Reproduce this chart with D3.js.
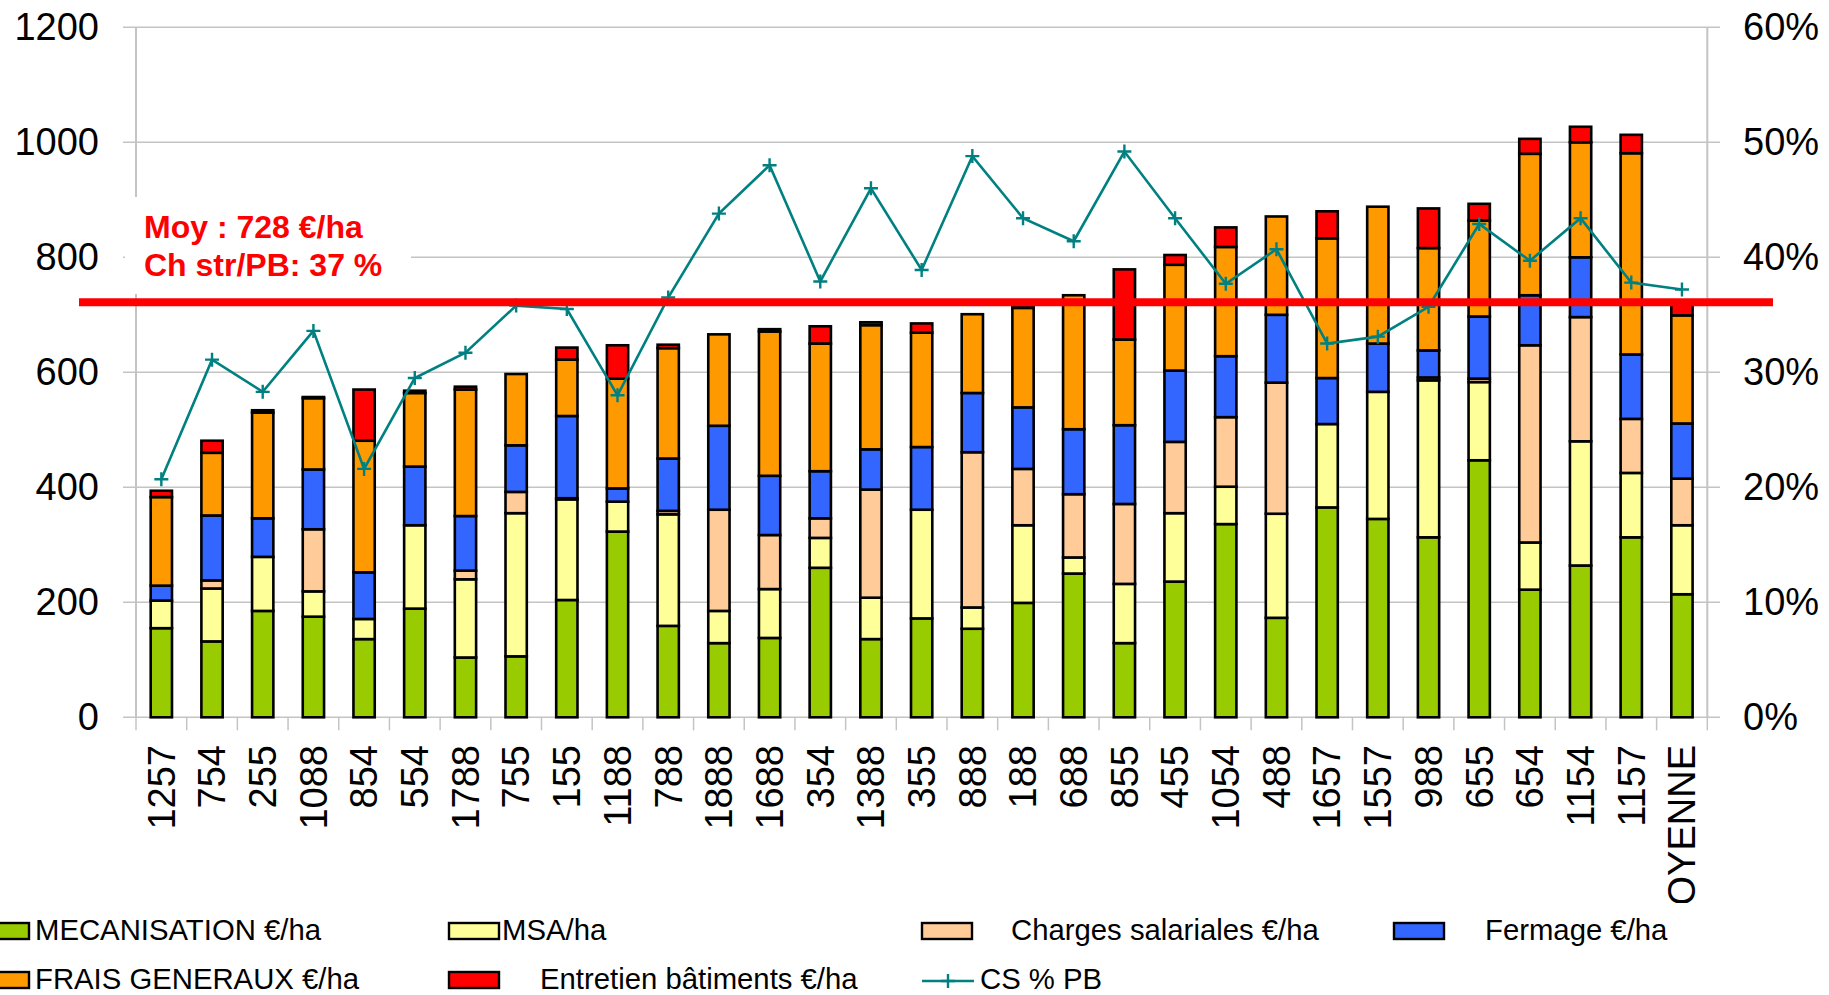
<!DOCTYPE html>
<html>
<head>
<meta charset="utf-8">
<script src="https://cdn.jsdelivr.net/npm/d3@7"></script>
<style>
  html, body { margin: 0; padding: 0; background: #fff; }
  svg { display: block; font-family: "Liberation Sans", Arial, Helvetica, sans-serif; }
</style>
</head>
<body>
<svg id="chart" width="1829" height="995"></svg>
<script>
// ---------------- DATA ----------------
const categories = ["1257","754","255","1088","854","554","1788","755","155","1188","788","1888","1688","354","1388","355","888","188","688","855","455","1054","488","1657","1557","988","655","654","1154","1157","MOYENNE"];
const mecanisation = [155,132,185,175,136,189,104,106,204,323,159,129,138,260,136,172,154,199,250,129,236,336,173,365,345,313,447,222,264,313,214];
const msa          = [48,92,94,44,35,145,136,249,175,52,194,56,85,52,72,189,37,135,28,103,119,65,181,145,221,273,136,82,216,112,120];
const charges      = [0,14,0,108,0,0,15,37,2,0,6,176,94,34,188,0,270,98,110,139,124,121,228,0,0,5,6,343,216,94,81];
const fermage      = [26,113,67,104,81,102,95,81,143,23,91,146,103,82,70,109,103,107,113,137,124,106,118,80,84,47,108,87,104,112,96];
const fraisGen     = [154,109,184,124,229,128,220,124,98,191,192,159,251,222,216,199,137,173,233,149,184,190,171,243,238,178,167,246,200,350,188];
const entretien    = [11,21,4,2,89,4,5,0,21,58,6,0,4,30,5,16,0,2,0,122,17,34,0,47,0,69,29,26,27,32,19];
const csPctPB      = [20.7,31.1,28.3,33.6,21.6,29.5,31.7,35.8,35.5,28.0,36.5,43.8,48.0,37.9,46.0,38.9,48.8,43.4,41.4,49.2,43.4,37.7,40.7,32.5,33.1,35.7,42.9,39.7,43.4,37.8,37.2];
const leftTicks  = [0,200,400,600,800,1000,1200];
const rightTicks = [0,0.1,0.2,0.3,0.4,0.5,0.6];
const moyLineValue = 722;
const annotationLines = ["Moy : 728 €/ha", "Ch str/PB: 37 %"];
const seriesNames = ["MECANISATION €/ha","MSA/ha","Charges salariales €/ha","Fermage €/ha","FRAIS GENERAUX €/ha","Entretien bâtiments €/ha"];
const lineName = "CS % PB";

// ---------------- SETUP ----------------
const colors = ["#99CC00","#FFFF99","#FFCC99","#3366FF","#FF9900","#FF0000"];
const teal = "#008080";
const svg = d3.select("#chart");
const pLeft = 136, pRight = 1707.3, pTop = 27.3, pBottom = 717.3;

const rows = categories.map((c, i) => ({
  cat: c, k0: mecanisation[i], k1: msa[i], k2: charges[i], k3: fermage[i], k4: fraisGen[i], k5: entretien[i]
}));
const keys = ["k0","k1","k2","k3","k4","k5"];
const stacked = d3.stack().keys(keys)(rows);

const x = d3.scaleBand().domain(categories).range([pLeft, pRight]).paddingInner(0.58).paddingOuter(0.29);
const y = d3.scaleLinear().domain([0, 1200]).range([pBottom, pTop]);
const y2 = d3.scaleLinear().domain([0, 0.6]).range([pBottom, pTop]);
const step = x.step();

// gridlines
svg.append("g").selectAll("line").data(leftTicks).join("line")
  .attr("x1", 123).attr("x2", 1720)
  .attr("y1", d => y(d)).attr("y2", d => y(d))
  .attr("stroke", "#c4c4c4").attr("stroke-width", 1.5);

// axis lines
svg.append("line").attr("x1", pLeft).attr("x2", pLeft).attr("y1", pTop).attr("y2", pBottom)
  .attr("stroke", "#c4c4c4").attr("stroke-width", 2);
svg.append("line").attr("x1", pRight).attr("x2", pRight).attr("y1", pTop).attr("y2", pBottom)
  .attr("stroke", "#c4c4c4").attr("stroke-width", 2);

// x tick marks at category boundaries
const bounds = categories.map(c => x(c) - x.paddingOuter() * step).concat([pRight]);
svg.append("g").selectAll("line").data(bounds).join("line")
  .attr("x1", d => d).attr("x2", d => d)
  .attr("y1", pBottom).attr("y2", pBottom + 13)
  .attr("stroke", "#c4c4c4").attr("stroke-width", 1.5);

// left axis labels
const leftAxis = d3.axisLeft(y).tickValues(leftTicks).tickFormat(d3.format("d")).tickSize(0).tickPadding(0);
const gl = svg.append("g").attr("transform", `translate(99,0)`).call(leftAxis);
gl.select(".domain").remove();
gl.selectAll("text").attr("font-size", 38).attr("fill", "#000")
  .attr("font-family", "Liberation Sans, Arial, sans-serif");

// right axis labels
const rightAxis = d3.axisRight(y2).tickValues(rightTicks).tickFormat(d3.format(".0%")).tickSize(0).tickPadding(0);
const gr = svg.append("g").attr("transform", `translate(1743,0)`).call(rightAxis);
gr.select(".domain").remove();
gr.selectAll("text").attr("font-size", 38).attr("fill", "#000")
  .attr("font-family", "Liberation Sans, Arial, sans-serif");

// bars
const gBars = svg.append("g");
stacked.forEach((layer, li) => {
  gBars.append("g").selectAll("rect").data(layer).join("rect")
    .attr("x", d => x(d.data.cat))
    .attr("width", x.bandwidth())
    .attr("y", d => y(d[1]))
    .attr("height", d => Math.max(0, y(d[0]) - y(d[1])))
    .attr("fill", colors[li])
    .attr("stroke", "#000")
    .attr("stroke-width", 2.6);
});

// line CS % PB
const cx = c => x(c) + x.bandwidth() / 2;
const lineGen = d3.line().x((d, i) => cx(categories[i])).y(d => y2(d / 100));
svg.append("path").datum(csPctPB).attr("d", lineGen)
  .attr("fill", "none").attr("stroke", teal).attr("stroke-width", 2.6);
svg.append("g").selectAll("path").data(csPctPB).join("path")
  .attr("transform", (d, i) => `translate(${cx(categories[i])},${y2(d / 100)})`)
  .attr("d", "M-7,0H7M0,-7V7")
  .attr("stroke", teal).attr("stroke-width", 2.4).attr("fill", "none");

// x labels (rotated, clipped at bottom)
svg.append("clipPath").attr("id", "xclip").append("rect")
  .attr("x", 0).attr("y", 735).attr("width", 1829).attr("height", 168);
svg.append("g").attr("clip-path", "url(#xclip)").selectAll("text").data(categories).join("text")
  .attr("transform", d => `translate(${cx(d)},745) rotate(-90)`)
  .attr("text-anchor", "end")
  .attr("dy", "0.35em")
  .attr("font-size", 38)
  .attr("fill", "#000")
  .text(d => d);

// annotation white box
svg.append("rect").attr("x", 125).attr("y", 197).attr("width", 286).attr("height", 97).attr("fill", "#fff");

// average red line
svg.append("line").attr("x1", 79).attr("x2", 1773)
  .attr("y1", y(moyLineValue)).attr("y2", y(moyLineValue))
  .attr("stroke", "#FF0000").attr("stroke-width", 8);

// annotation text
svg.append("g").selectAll("text").data(annotationLines).join("text")
  .attr("x", 144).attr("y", (d, i) => 238 + i * 38)
  .attr("font-size", 32).attr("font-weight", "bold").attr("fill", "#FF0000")
  .text(d => d);

// legend
const legendItems = [
  { name: seriesNames[0], color: colors[0], sx: -21, tx: 35, row: 0 },
  { name: seriesNames[1], color: colors[1], sx: 449, tx: 502, row: 0 },
  { name: seriesNames[2], color: colors[2], sx: 922, tx: 1011, row: 0 },
  { name: seriesNames[3], color: colors[3], sx: 1394, tx: 1485, row: 0 },
  { name: seriesNames[4], color: colors[4], sx: -21, tx: 35, row: 1 },
  { name: seriesNames[5], color: colors[5], sx: 449, tx: 540, row: 1 }
];
const rowBase = [940, 989];
const lg = svg.append("g");
legendItems.forEach(it => {
  lg.append("rect").attr("x", it.sx).attr("y", rowBase[it.row] - 17).attr("width", 50).attr("height", 16)
    .attr("fill", it.color).attr("stroke", "#000").attr("stroke-width", 2.4);
  lg.append("text").attr("x", it.tx).attr("y", rowBase[it.row])
    .attr("font-size", 29.3).attr("fill", "#000").text(it.name);
});
lg.append("line").attr("x1", 922).attr("x2", 974).attr("y1", 981).attr("y2", 981)
  .attr("stroke", teal).attr("stroke-width", 2.6);
lg.append("path").attr("transform", "translate(948,981)").attr("d", "M-7,0H7M0,-7V7")
  .attr("stroke", teal).attr("stroke-width", 2.4);
lg.append("text").attr("x", 980).attr("y", 989).attr("font-size", 29.3).attr("fill", "#000").text(lineName);
</script>
</body>
</html>
